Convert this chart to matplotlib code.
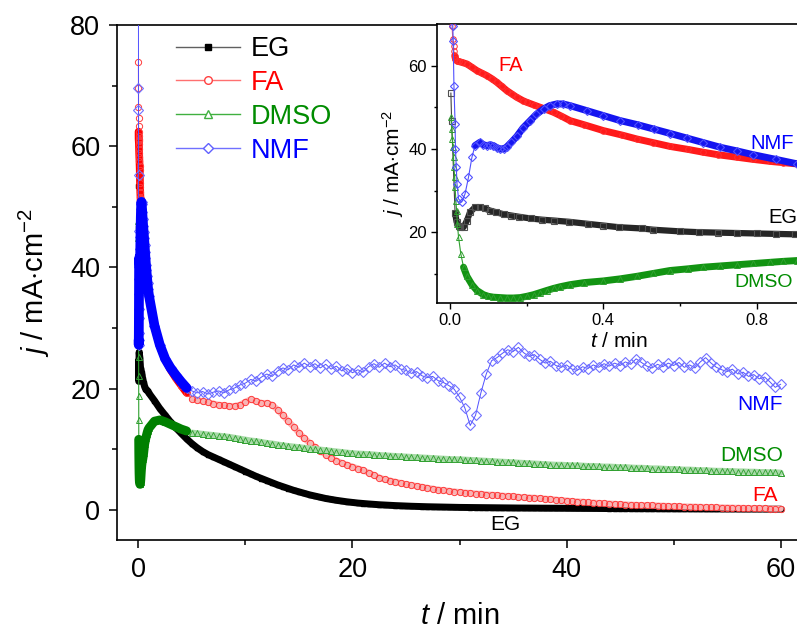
import numpy as np
import matplotlib
matplotlib.use("Agg")
import matplotlib.pyplot as plt
from matplotlib.lines import Line2D

plt.rcParams['font.family'] = ['Liberation Sans', 'DejaVu Sans']
plt.rcParams['mathtext.fontset'] = 'custom'
plt.rcParams['mathtext.rm'] = 'Liberation Sans'
plt.rcParams['mathtext.it'] = 'Liberation Sans:italic'

# ---- current transients, t in min, j in mA/cm2 ----
# first minutes (fine sampling)
t_eg0 = [0.002, 0.004, 0.013, 0.017, 0.022, 0.026, 0.035, 0.044, 0.052, 0.065,
         0.078, 0.090, 0.104, 0.120, 0.140, 0.160, 0.180, 0.210, 0.240, 0.270,
         0.310, 0.360, 0.400, 0.440, 0.500, 0.530, 0.600, 0.650, 0.700, 0.750,
         0.800, 0.850, 0.900, 1.0, 1.5, 2.0, 2.5, 3.0, 3.5, 4.0, 4.5]
j_eg0 = [53.4, 46.6, 24.6, 22.5, 21.4, 21.2, 21.2, 22.8, 24.8, 26.0,
         26.0, 25.7, 25.2, 24.8, 24.3, 24.0, 23.7, 23.3, 23.0, 22.8,
         22.5, 22.0, 21.6, 21.2, 20.9, 20.6, 20.2, 20.0, 19.9, 19.8,
         19.7, 19.6, 19.5, 19.2, 18.0, 16.7, 15.6, 14.5, 13.5, 12.6, 11.7]

t_fa0 = [0.003, 0.005, 0.007, 0.009, 0.010, 0.012, 0.014, 0.017, 0.022, 0.030,
         0.044, 0.057, 0.070, 0.083, 0.096, 0.110, 0.122, 0.135, 0.148, 0.161,
         0.174, 0.190, 0.200, 0.220, 0.235, 0.250, 0.270, 0.290, 0.313, 0.350,
         0.400, 0.450, 0.487, 0.530, 0.574, 0.620, 0.661, 0.700, 0.748, 0.790,
         0.836, 0.870, 0.906, 1.0, 1.5, 2.0, 2.5, 3.0, 3.5, 4.0, 4.5]
j_fa0 = [73.9, 69.6, 66.4, 64.6, 63.4, 62.4, 61.6, 61.2, 61.0, 60.8,
         60.4, 59.6, 58.8, 58.2, 57.6, 56.8, 56.0, 55.0, 54.0, 53.2,
         52.4, 51.6, 51.2, 50.5, 50.0, 49.5, 48.8, 47.9, 46.8, 45.8,
         44.4, 43.3, 42.4, 41.5, 40.6, 39.9, 39.2, 38.6, 38.0, 37.5,
         37.0, 36.7, 36.4, 35.4, 30.2, 27.0, 24.8, 23.1, 21.7, 20.5, 19.3]

t_dmso0 = [0.002, 0.004, 0.006, 0.008, 0.009, 0.010, 0.012, 0.013, 0.015, 0.017,
           0.019, 0.022, 0.028, 0.035, 0.044, 0.057, 0.070, 0.087, 0.100, 0.113,
           0.130, 0.148, 0.165, 0.183, 0.200, 0.218, 0.235, 0.252, 0.270, 0.287,
           0.313, 0.350, 0.400, 0.444, 0.487, 0.530, 0.574, 0.620, 0.661, 0.705,
           0.748, 0.790, 0.836, 0.870, 0.906, 1.0, 1.5, 2.0, 2.5, 3.0,
           3.5, 4.0, 4.5]
j_dmso0 = [47.6, 44.8, 42.4, 40.4, 38.0, 35.6, 33.2, 30.8, 27.6, 25.2,
           22.0, 18.8, 14.8, 11.6, 9.4, 7.4, 6.0, 5.0, 4.6, 4.4,
           4.3, 4.2, 4.2, 4.3, 4.6, 5.0, 5.5, 6.0, 6.5, 6.9,
           7.4, 7.9, 8.3, 8.8, 9.4, 10.1, 10.8, 11.2, 11.6, 11.9,
           12.2, 12.5, 12.8, 13.0, 13.2, 13.5, 14.6, 14.8, 14.5, 14.1,
           13.7, 13.3, 13.0]

t_nmf0 = [0.002, 0.007, 0.008, 0.010, 0.013, 0.014, 0.016, 0.018, 0.022, 0.030,
          0.039, 0.048, 0.057, 0.065, 0.078, 0.087, 0.096, 0.105, 0.113, 0.122,
          0.131, 0.140, 0.148, 0.160, 0.174, 0.190, 0.209, 0.225, 0.244, 0.260,
          0.278, 0.295, 0.313, 0.357, 0.400, 0.444, 0.490, 0.531, 0.575, 0.618,
          0.660, 0.705, 0.750, 0.792, 0.850, 0.906, 1.0, 1.5, 2.0, 2.5,
          3.0, 3.5, 4.0, 4.5]
j_nmf0 = [88.0, 69.6, 66.0, 55.2, 46.0, 40.0, 35.6, 31.6, 28.0, 27.2,
          29.2, 33.2, 38.0, 40.8, 41.6, 41.0, 40.8, 41.0, 40.8, 40.3,
          40.0, 40.0, 40.5, 41.6, 43.0, 45.0, 46.8, 48.3, 49.6, 50.4,
          50.8, 50.8, 50.4, 49.2, 48.0, 46.8, 45.8, 44.8, 43.7, 42.6,
          41.5, 40.4, 39.5, 38.6, 37.5, 36.4, 35.2, 30.4, 27.2, 24.9,
          23.4, 22.2, 21.1, 20.1]

# from 5 min on: one point every 30 s
t_late = np.arange(5.0, 60.01, 0.5)

j_eg_late = [10.9, 10.2, 9.6, 9.1, 8.7, 8.3, 7.9, 7.5, 7.1, 6.7,
             6.3, 5.9, 5.5, 5.15, 4.8, 4.45, 4.1, 3.8, 3.5, 3.2,
             2.95, 2.7, 2.45, 2.25, 2.05, 1.85, 1.7, 1.55, 1.42, 1.3,
             1.2, 1.1, 1.02, 0.95, 0.88, 0.82, 0.77, 0.72, 0.68, 0.64,
             0.6, 0.57, 0.54, 0.51, 0.49, 0.47, 0.45, 0.43, 0.41, 0.4,
             0.38, 0.37, 0.36, 0.35, 0.34, 0.33, 0.32, 0.31, 0.3, 0.3,
             0.29, 0.28, 0.28, 0.27, 0.26, 0.26, 0.25, 0.25, 0.24, 0.24,
             0.23, 0.23, 0.22, 0.22, 0.21, 0.21, 0.2, 0.2, 0.19, 0.19,
             0.18, 0.18, 0.18, 0.17, 0.17, 0.17, 0.16, 0.16, 0.16, 0.15,
             0.15, 0.15, 0.14, 0.14, 0.14, 0.13, 0.13, 0.13, 0.12, 0.12,
             0.12, 0.12, 0.11, 0.11, 0.11, 0.11, 0.1, 0.1, 0.1, 0.1,
             0.1]

j_fa_late = [18.3, 18.1, 17.9, 17.7, 17.5, 17.3, 17.2, 17.1, 17.1, 17.3,
             17.8, 18.2, 17.9, 17.6, 17.6, 17.3, 16.5, 15.6, 14.6, 13.7,
             12.7, 11.8, 11.0, 10.3, 9.7, 9.1, 8.6, 8.1, 7.7, 7.4,
             7.1, 6.8, 6.5, 6.1, 5.7, 5.3, 5.0, 4.8, 4.6, 4.4,
             4.2, 4.05, 3.9, 3.75, 3.6, 3.45, 3.3, 3.2, 3.1, 3.0,
             2.9, 2.8, 2.75, 2.65, 2.6, 2.5, 2.45, 2.4, 2.3, 2.25,
             2.2, 2.1, 2.05, 2.0, 1.95, 1.9, 1.8, 1.75, 1.65, 1.55,
             1.5, 1.4, 1.35, 1.3, 1.2, 1.15, 1.1, 1.05, 1.0, 0.95,
             0.9, 0.85, 0.8, 0.78, 0.75, 0.72, 0.7, 0.67, 0.64, 0.6,
             0.58, 0.55, 0.52, 0.5, 0.48, 0.45, 0.43, 0.4, 0.38, 0.36,
             0.34, 0.32, 0.3, 0.28, 0.26, 0.24, 0.22, 0.2, 0.19, 0.18,
             0.17]

j_dmso_late = [12.7, 12.6, 12.5, 12.4, 12.3, 12.2, 12.1, 12.0, 11.85, 11.7,
               11.55, 11.4, 11.3, 11.15, 11.0, 10.9, 10.75, 10.6, 10.5, 10.4,
               10.3, 10.2, 10.1, 10.0, 9.9, 9.8, 9.7, 9.6, 9.5, 9.4,
               9.3, 9.25, 9.2, 9.15, 9.1, 9.0, 8.95, 8.9, 8.85, 8.8,
               8.75, 8.7, 8.65, 8.6, 8.55, 8.5, 8.45, 8.4, 8.35, 8.3,
               8.3, 8.25, 8.2, 8.15, 8.1, 8.05, 8.0, 7.95, 7.9, 7.85,
               7.8, 7.75, 7.7, 7.65, 7.6, 7.55, 7.5, 7.45, 7.4, 7.4,
               7.35, 7.3, 7.3, 7.25, 7.2, 7.2, 7.15, 7.1, 7.1, 7.05,
               7.0, 7.0, 6.95, 6.9, 6.9, 6.85, 6.8, 6.8, 6.75, 6.7,
               6.7, 6.65, 6.6, 6.6, 6.55, 6.5, 6.5, 6.45, 6.4, 6.4,
               6.35, 6.35, 6.3, 6.3, 6.25, 6.25, 6.2, 6.2, 6.15, 6.15,
               6.1]

j_nmf_late = [19.6, 19.3, 19.5, 19.1, 19.4, 19.6, 19.3, 19.8, 20.1, 20.6,
              20.9, 21.5, 21.2, 21.9, 22.4, 22.0, 22.9, 23.4, 23.1, 23.9,
              23.5, 24.2, 23.6, 24.1, 23.4, 24.0, 23.2, 23.7, 22.9, 23.3,
              22.6, 23.1, 22.7, 23.6, 24.1, 23.5, 24.2, 23.6, 23.9, 23.2,
              23.0, 22.5, 22.8, 22.1, 21.8, 22.0, 21.3, 21.0, 20.5, 19.9,
              18.6, 16.8, 13.9, 15.6, 19.3, 22.4, 24.6, 25.1, 25.8, 26.4,
              26.1, 26.8, 25.9, 25.3, 25.6, 24.8, 24.2, 24.5, 23.8, 23.5,
              23.9, 23.2, 23.0, 23.6, 23.3, 23.9, 23.5, 24.1, 23.7, 24.2,
              23.8, 24.4, 24.0, 24.9, 24.3, 23.7, 23.4, 24.0, 23.6, 24.2,
              23.8, 24.3, 23.5, 23.9, 23.4, 24.4, 25.1, 24.2, 23.5, 23.1,
              22.8, 23.2, 22.4, 22.7, 22.0, 22.3, 21.6, 21.9, 21.1, 20.2,
              20.7]

names = ['EG', 'FA', 'DMSO', 'NMF']
colors = {'EG': 'black', 'FA': '#ff0000', 'DMSO': '#008c00', 'NMF': '#0000ff'}

series = {
    'EG': (np.r_[t_eg0, t_late], np.r_[j_eg0, j_eg_late]),
    'FA': (np.r_[t_fa0, t_late], np.r_[j_fa0, j_fa_late]),
    'DMSO': (np.r_[t_dmso0, t_late], np.r_[j_dmso0, j_dmso_late]),
    'NMF': (np.r_[t_nmf0, t_late], np.r_[j_nmf0, j_nmf_late]),
}

fig = plt.figure(figsize=(7.97, 6.29), dpi=100)
ax = fig.add_axes([117/797, 89/629, 685/797, 515/629])


def band(a, t, j, mask, color, lw, z):
    a.plot(t[mask], j[mask], color=color, lw=lw, solid_capstyle='round',
           solid_joinstyle='round', zorder=z)


# EG
t, j = series['EG']
ax.plot(t, j, color='k', lw=0.8, zorder=2)
band(ax, t, j, t >= 0.013, 'k', 5, 2)
ax.plot(t, j, 's', color='k', ms=3, zorder=2)

# FA
t, j = series['FA']
ax.plot(t, j, color='#ff6060', lw=0.8, zorder=3)
band(ax, t, j, (t >= 0.012) & (t < 5), '#ff0000', 5.5, 3)
band(ax, t, j, t >= 4.9, '#f8b4b4', 4.5, 3)
ax.plot(t, j, 'o', mfc='none', mec='#ff3a3a', mew=0.7, ms=4.5, zorder=3)

# DMSO
t, j = series['DMSO']
ax.plot(t, j, color='#30a030', lw=0.8, zorder=4)
ax.plot(t, j, '^', mfc='none', mec='#30a030', mew=0.7, ms=4.5, zorder=4)
band(ax, t, j, t >= 4.9, '#a8daa8', 4.5, 4)
ax.plot(t[t >= 4.9], j[t >= 4.9], '^', mfc='none', mec='#30a030', mew=0.6,
        ms=4.5, zorder=4)
band(ax, t, j, (t >= 0.03) & (t < 5), '#008000', 6.5, 4)

# NMF
t, j = series['NMF']
ax.plot(t, j, color='#5050ff', lw=0.7, zorder=5)
ax.plot(t, j, 'D', mfc='none', mec='#7070ff', mew=0.8, ms=5.5, zorder=5)
band(ax, t, j, (t >= 0.02) & (t < 5), '#0000ff', 7, 5)

ax.set_xlim(-2, 62)
ax.set_ylim(-5, 80)
ax.set_xticks([0, 20, 40, 60])
ax.set_xticks([10, 30, 50], minor=True)
ax.set_yticks([0, 20, 40, 60, 80])
ax.set_yticks([10, 30, 50, 70], minor=True)
ax.tick_params(which='both', direction='out', width=1.1, labelsize=19.5, pad=6)
ax.tick_params(which='major', length=6)
ax.tick_params(which='minor', length=3.5)
for s in ax.spines.values():
    s.set_linewidth(1.2)
ax.set_xlabel(r'$t$ / min', fontsize=21, labelpad=14)
ax.set_ylabel(r'$j$ / mA$\cdot$cm$^{-2}$', fontsize=21, labelpad=13)

# labels at the curve ends
ax.text(60.2, 17.4, 'NMF', color=colors['NMF'], fontsize=15, ha='right', va='center')
ax.text(60.2, 8.9, 'DMSO', color=colors['DMSO'], fontsize=15, ha='right', va='center')
ax.text(59.7, 2.3, 'FA', color=colors['FA'], fontsize=15, ha='right', va='center')
ax.text(34.3, -2.4, 'EG', color='black', fontsize=15, ha='center', va='center')

# legend
handles = [
    Line2D([], [], color='#606060', lw=1, marker='s', ms=5, mfc='k', mec='k'),
    Line2D([], [], color='#ff7070', lw=1, marker='o', ms=5.5, mfc='white', mec='#ff4040'),
    Line2D([], [], color='#40b040', lw=1, marker='^', ms=5.5, mfc='white', mec='#40b040'),
    Line2D([], [], color='#7070ff', lw=1, marker='D', ms=5, mfc='white', mec='#6060ff'),
]
leg = ax.legend(handles, names, loc='upper left', bbox_to_anchor=(176/797, 1 - 36/629),
                bbox_transform=fig.transFigure, frameon=False, fontsize=19.5,
                handlelength=2.35, handletextpad=0.4, labelspacing=0.29,
                borderpad=0, borderaxespad=0)
for txt, n in zip(leg.get_texts(), names):
    txt.set_color(colors[n])

# ---- inset: first minute ----
ins = fig.add_axes([436.7/797, 326/629, 364.3/797, 279/629])
ins.set_facecolor('white')

t, j = series['EG']
ins.plot(t, j, color='#404040', lw=0.8, zorder=2)
band(ins, t, j, t >= 0.013, '#262626', 4.5, 2)
ins.plot(t, j, 's', mfc='none', mec='#505050', mew=0.8, ms=4, zorder=2)

t, j = series['FA']
ins.plot(t, j, color='#ff6060', lw=0.8, zorder=3)
band(ins, t, j, t >= 0.012, '#ff1a1a', 5, 3)
ins.plot(t, j, 'o', mfc='none', mec='#ff3030', mew=0.7, ms=4, zorder=3)

t, j = series['DMSO']
ins.plot(t, j, color='#30a030', lw=0.8, zorder=4)
band(ins, t, j, t >= 0.03, '#129412', 5, 4)
ins.plot(t, j, '^', mfc='none', mec='#30a030', mew=0.7, ms=4.5, zorder=4)

t, j = series['NMF']
ins.plot(t, j, color='#5050ff', lw=0.8, zorder=5)
band(ins, t, j, t >= 0.06, '#1414f0', 5, 5)
ins.plot(t, j, 'D', mfc='none', mec='#5050ff', mew=0.8, ms=4.5, zorder=5)

ins.set_xlim(-0.035, 0.916)
ins.set_ylim(3, 70)
ins.set_xticks([0.0, 0.4, 0.8])
ins.set_xticklabels(['0.0', '0.4', '0.8'])
ins.set_xticks([0.2, 0.6], minor=True)
ins.set_yticks([20, 40, 60])
ins.set_yticks([10, 30, 50], minor=True)
ins.tick_params(which='both', direction='out', width=1.0, labelsize=12, pad=3)
ins.tick_params(which='major', length=4)
ins.tick_params(which='minor', length=2.5)
for s in ins.spines.values():
    s.set_linewidth(1.2)
ins.set_xlabel(r'$t$ / min', fontsize=15, labelpad=3)
ins.set_ylabel(r'$j$ / mA$\cdot$cm$^{-2}$', fontsize=15, labelpad=2)

ins.text(0.157, 60.1, 'FA', color=colors['FA'], fontsize=14.5, ha='center', va='center')
ins.text(0.783, 41.4, 'NMF', color=colors['NMF'], fontsize=14.5, ha='left', va='center')
ins.text(0.830, 23.6, 'EG', color='black', fontsize=14.5, ha='left', va='center')
ins.text(0.742, 8.0, 'DMSO', color=colors['DMSO'], fontsize=14, ha='left', va='center')

fig.savefig('out.png', dpi=100)
